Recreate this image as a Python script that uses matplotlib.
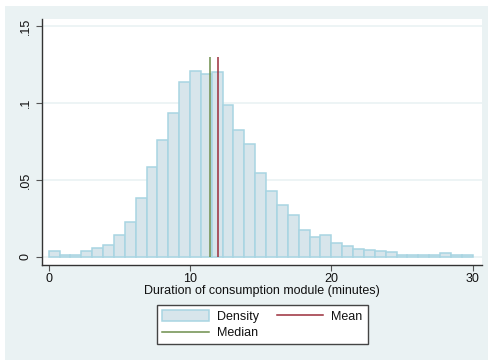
import numpy as np
import matplotlib
matplotlib.use("Agg")
import matplotlib.pyplot as plt
from matplotlib.patches import Patch, Rectangle
from matplotlib.lines import Line2D

plt.rcParams['font.family'] = ['Liberation Sans', 'DejaVu Sans']

# ---- data ----
bin_start = 0.0
bin_end = 30.0
n_bins = 39
density = [0.0041, 0.0011, 0.0011, 0.0037, 0.0058, 0.0080, 0.0145, 0.0227, 0.0385, 0.0582,
           0.0760, 0.0937, 0.1138, 0.1208, 0.1188, 0.1203, 0.0985, 0.0825, 0.0734, 0.0543,
           0.0431, 0.0338, 0.0271, 0.0175, 0.0132, 0.0145, 0.0089, 0.0074, 0.0052, 0.0045,
           0.0037, 0.0030, 0.0015, 0.0015, 0.0015, 0.0013, 0.0024, 0.0013, 0.0013]
mean_val = 11.96
median_val = 11.39
line_top = 0.13
xticks = [0, 10, 20, 30]
yticks = [0, 0.05, 0.10, 0.15]
ytick_labels = ["0", ".05", ".1", ".15"]
xlabel = "Duration of consumption module (minutes)"
legend_labels = ["Density", "Median", "Mean"]

# ---- styles ----
BG = "#EAF2F3"
BAR_FILL = "#D7E5EB"
BAR_EDGE = "#A8D5E2"
MEAN_C = "#9B2D3A"
MEDIAN_C = "#6E8E4C"
AXC = "#333333"
FS = 9.0

fig = plt.figure(figsize=(4.89, 3.60), dpi=100, facecolor="white")
fig.patches.append(Rectangle((5 / 489, 0), 1 - 5 / 489, (360 - 6) / 360,
                             transform=fig.transFigure, facecolor=BG,
                             edgecolor="none", zorder=-10))

ax = fig.add_axes([41.7 / 489, (360 - 265) / 360, (481.7 - 41.7) / 489, (265 - 19) / 360])
ax.set_facecolor("white")

edges = np.linspace(bin_start, bin_end, n_bins + 1)
for y in yticks:
    ax.axhline(y, color=BG, lw=1.2, zorder=1)

ax.bar(edges[:-1], density, width=np.diff(edges), align='edge',
       color=BAR_FILL, edgecolor=BAR_EDGE, linewidth=1.1, zorder=2)
ax.vlines([median_val], 0, line_top, color=MEDIAN_C, lw=1.1, zorder=3)
ax.vlines([mean_val], 0, line_top, color=MEAN_C, lw=1.1, zorder=3)

ax.set_xlim(-0.495, 30.64)
ax.set_ylim(-0.0052, 0.1545)
ax.set_xticks(xticks)
ax.set_yticks(yticks)
ax.set_yticklabels(ytick_labels, rotation=90, va='center')

for s in ["top", "right"]:
    ax.spines[s].set_visible(False)
for s in ["left", "bottom"]:
    ax.spines[s].set_color(AXC)
    ax.spines[s].set_linewidth(1.0)
ax.tick_params(direction='out', length=4, width=0.8, color="#555555",
               labelsize=FS, labelcolor="#111111", pad=2.0)
ax.tick_params(axis='y', pad=3)
ax.set_xlabel(xlabel, fontsize=FS, color="#111111", labelpad=0.0)

handles = [Patch(facecolor=BAR_FILL, edgecolor=BAR_EDGE, linewidth=1.1),
           Line2D([], [], color=MEDIAN_C, lw=1.1),
           Line2D([], [], color=MEAN_C, lw=1.1)]
leg = fig.legend(handles, legend_labels, ncol=2, loc='center',
                 bbox_to_anchor=(262.5 / 489, 1 - 324.7 / 360),
                 fontsize=FS, frameon=True, fancybox=False, framealpha=1,
                 edgecolor="#444444", handlelength=3.7, handleheight=1.0,
                 handletextpad=0.65, columnspacing=1.45, labelspacing=0.3,
                 borderpad=0.4)
leg.get_frame().set_linewidth(1.0)
for t in leg.get_texts():
    t.set_color("#111111")

fig.savefig("out.png", dpi=100, facecolor=fig.get_facecolor())
